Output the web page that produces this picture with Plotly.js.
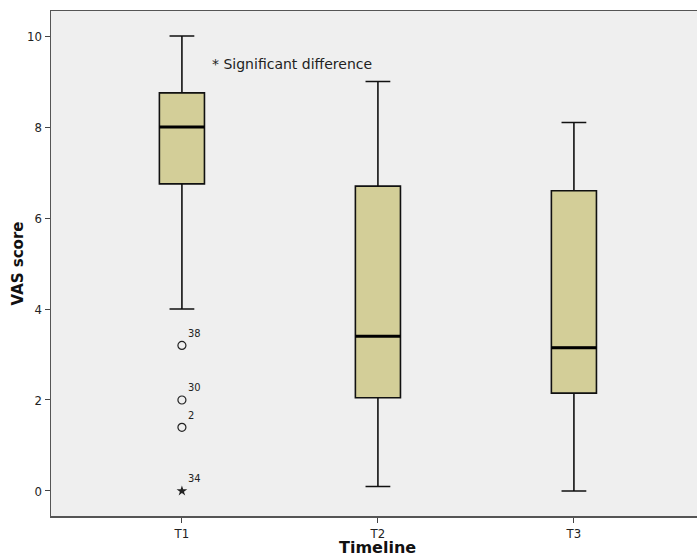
<!DOCTYPE html>
<html><head><meta charset="utf-8">
<script src="https://cdn.plot.ly/plotly-3.0.1.min.js"></script>
<style>html,body{margin:0;padding:0;background:#fff;overflow:hidden}</style>
</head><body><div id="chart" style="width:697px;height:556px"></div>
<script>
const categories = ["T1", "T2", "T3"];
const q1 = [6.75, 2.05, 2.15];
const medians = [8.0, 3.4, 3.15];
const q3 = [8.75, 6.7, 6.6];
const lowerWhisker = [4.0, 0.1, 0.0];
const upperWhisker = [10.0, 9.0, 8.1];
const outlierCategory = [0, 0, 0];
const outlierValues = [3.2, 2.0, 1.4];
const outlierLabels = ["38", "30", "2"];
const extremeCategory = [0];
const extremeValues = [0.0];
const extremeLabels = ["34"];
const yTicks = [0, 2, 4, 6, 8, 10];

const xIdx = categories.map((c, i) => i);
const boxWidth = 0.23;
const FONT = "DejaVu Sans, sans-serif";
const COND = "DejaVu Sans Condensed, Liberation Sans Narrow, DejaVu Sans, sans-serif";

const traces = [{
  type: "box",
  x: xIdx,
  q1: q1, median: medians, q3: q3,
  lowerfence: lowerWhisker, upperfence: upperWhisker,
  width: boxWidth,
  whiskerwidth: 0.55,
  fillcolor: "#d3ce98",
  line: {color: "#111", width: 1.6},
  boxpoints: false,
  hoverinfo: "skip",
  showlegend: false
}, {
  type: "scatter",
  mode: "markers+text",
  x: outlierCategory, y: outlierValues,
  text: outlierLabels,
  textposition: "top right",
  textfont: {family: COND, size: 11, color: "#222"},
  marker: {symbol: "circle-open", size: 8, color: "#222", line: {width: 1.2}},
  cliponaxis: false,
  showlegend: false
}, {
  type: "scatter",
  mode: "markers+text",
  x: extremeCategory, y: extremeValues,
  text: extremeLabels,
  textposition: "top right",
  textfont: {family: COND, size: 11, color: "#222"},
  marker: {symbol: "star", size: 8, color: "#222"},
  cliponaxis: false,
  showlegend: false
}];

const shapes = medians.map((m, i) => ({
  type: "line", xref: "x", yref: "y",
  x0: xIdx[i] - boxWidth / 2, x1: xIdx[i] + boxWidth / 2,
  y0: m, y1: m,
  line: {color: "#000", width: 3}
}));

const layout = {
  width: 697, height: 556,
  margin: {l: 51, r: 0, t: 11, b: 40},
  paper_bgcolor: "#ffffff",
  plot_bgcolor: "#efefef",
  font: {family: FONT, size: 11, color: "#222"},
  xaxis: {
    range: [-0.668, 2.628],
    tickmode: "array", tickvals: xIdx, ticktext: categories,
    ticks: "outside", ticklen: 5, tickcolor: "#444", tickwidth: 1,
    showgrid: false, zeroline: false,
    showline: true, mirror: true, linecolor: "#555", linewidth: 1.5,
    tickfont: {family: COND, size: 13, color: "#222"}
  },
  yaxis: {
    range: [-0.55, 10.55],
    tickmode: "array", tickvals: yTicks,
    ticks: "outside", ticklen: 5, tickcolor: "#444", tickwidth: 1,
    showgrid: false, zeroline: false,
    showline: true, mirror: false, linecolor: "#555", linewidth: 1.5,
    tickfont: {family: COND, size: 13, color: "#222"},
    title: {text: "<b>VAS score</b>", font: {family: FONT, size: 15, color: "#111"}, standoff: 0}
  },
  shapes: shapes,
  annotations: [{
    xref: "x", yref: "y", x: 0.143, y: 9.38,
    xanchor: "left", yanchor: "middle",
    text: "* Significant difference", showarrow: false,
    font: {family: FONT, size: 14, color: "#222"}
  }, {
    xref: "x", yref: "paper", x: 1, y: 0,
    xanchor: "center", yanchor: "top", yshift: -20,
    text: "<b>Timeline</b>", showarrow: false,
    font: {family: FONT, size: 16, color: "#111"}
  }]
};

Plotly.newPlot("chart", traces, layout, {displayModeBar: false, staticPlot: true});
</script></body></html>
